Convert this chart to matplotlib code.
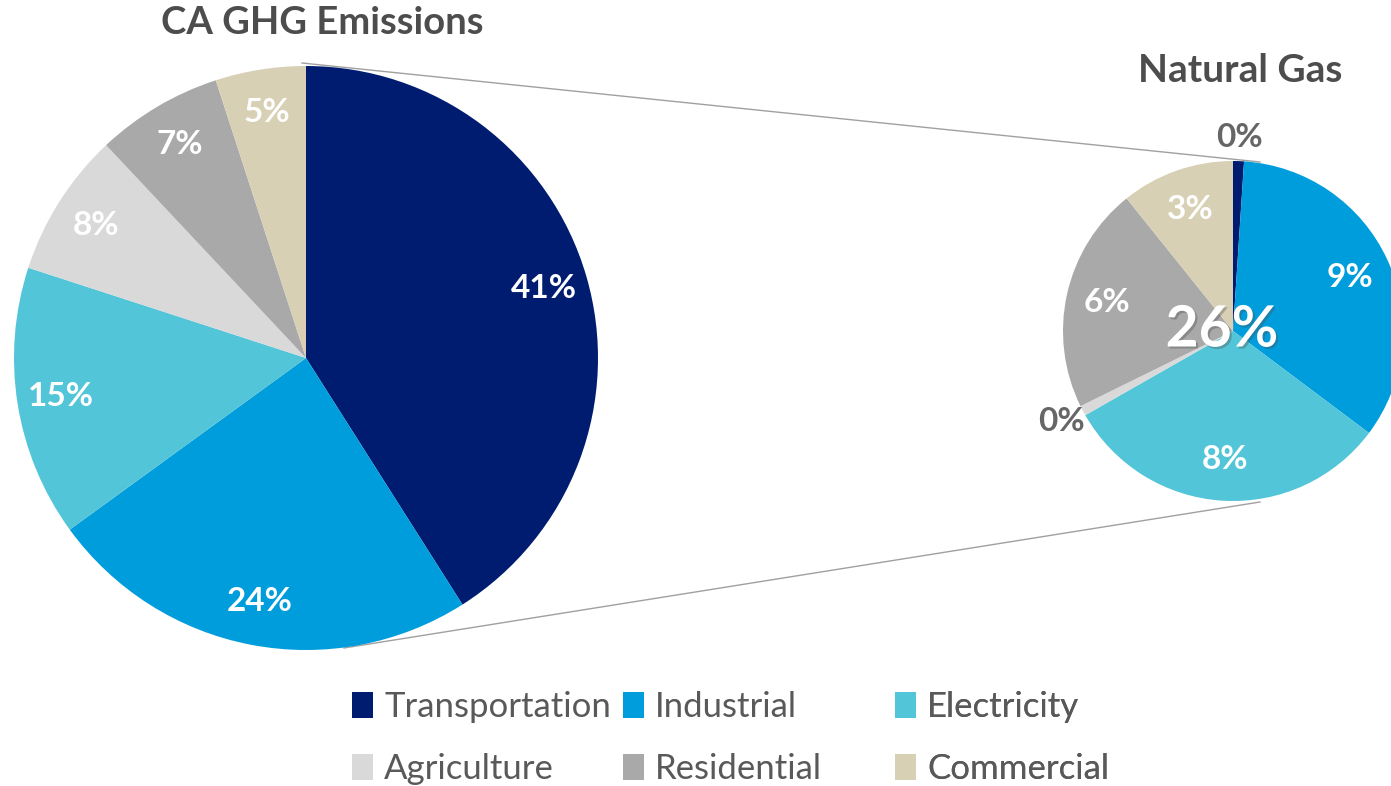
import matplotlib
matplotlib.use("Agg")
import matplotlib.pyplot as plt
import matplotlib.patheffects as pe
import numpy as np

# ---- data ----
categories = ["Transportation", "Industrial", "Electricity",
              "Agriculture", "Residential", "Commercial"]
total_values = [41, 24, 15, 8, 7, 5]
gas_values = [0.27, 8.9, 8.2, 0.25, 5.6, 2.8]
gas_total_label = "26%"
title_main = "CA GHG Emissions"
title_gas = "Natural Gas"

colors = ["#001C71", "#009DDC", "#52C5D8", "#D9D9D9", "#A9A9A9", "#D8D0B4"]

W, H = 1391, 786
plt.rcParams['font.family'] = ['Lato', 'DejaVu Sans']
fig = plt.figure(figsize=(W / 100, H / 100), dpi=100)
ax = fig.add_axes([0, 0, 1, 1])
ax.set_xlim(0, W)
ax.set_ylim(0, H)
ax.set_aspect('equal')
ax.axis('off')

def Y(y):
    return H - y

# big pie
c1 = (306, Y(358)); r1 = 292
w1, _ = ax.pie(total_values, colors=colors, startangle=90, counterclock=False,
               center=c1, radius=r1, frame=True,
               wedgeprops=dict(linewidth=0, antialiased=True))
# small pie
c2 = (1233, Y(331)); r2 = 170
w2, _ = ax.pie(gas_values, colors=colors, startangle=90, counterclock=False,
               center=c2, radius=r2, frame=True,
               wedgeprops=dict(linewidth=0, antialiased=True))
ax.set_xlim(0, W)
ax.set_ylim(0, H)
ax.axis('off')

# connector lines
ax.plot([302, 1260], [Y(63), Y(162)], color="#A0A0A0", lw=1.0, zorder=0)
ax.plot([344, 1260], [Y(648), Y(502)], color="#A0A0A0", lw=1.0, zorder=0)

# labels on big pie
for w, v in zip(w1, total_values):
    ang = np.deg2rad((w.theta1 + w.theta2) / 2)
    rr = 0.85 * r1
    ax.text(c1[0] + rr * np.cos(ang), c1[1] + rr * np.sin(ang), f"{v:.0f}%",
            ha='center', va='center', color='white', fontsize=24,
            fontweight='bold')

# labels on small pie
for w, v in zip(w2, gas_values):
    ang = np.deg2rad((w.theta1 + w.theta2) / 2)
    if v < 1:
        rr = 1.14 * r2
        col = "#666666"
    else:
        rr = 0.76 * r2
        col = "white"
    ax.text(c2[0] + rr * np.cos(ang), c2[1] + rr * np.sin(ang), f"{v:.0f}%",
            ha='center', va='center', color=col, fontsize=24,
            fontweight='bold')

ax.text(1222, Y(330), gas_total_label, ha='center', va='center', color='white',
        fontsize=41, fontweight='bold',
        path_effects=[pe.SimplePatchShadow(offset=(1.5, -1.5), alpha=0.35),
                      pe.Normal()])

# titles
ax.text(322, Y(23), title_main, ha='center', va='center', color="#4D4D4D",
        fontsize=27.5, fontweight='bold')
ax.text(1240, Y(71), title_gas, ha='center', va='center', color="#4D4D4D",
        fontsize=28, fontweight='bold')

# legend: three columns
cols_x = [352, 623, 895]
for j in range(3):
    idx = [j, j + 3]
    leg = ax.legend([w1[i] for i in idx], [categories[i] for i in idx],
                    loc='upper left', bbox_to_anchor=(cols_x[j], Y(691)),
                    bbox_transform=ax.transData, frameon=False,
                    fontsize=25, borderpad=0, borderaxespad=0,
                    handlelength=0.6, handleheight=0.8, handletextpad=0.33,
                    labelspacing=0.86, labelcolor="#595959")
    ax.add_artist(leg)

fig.savefig("out.png", dpi=100)
